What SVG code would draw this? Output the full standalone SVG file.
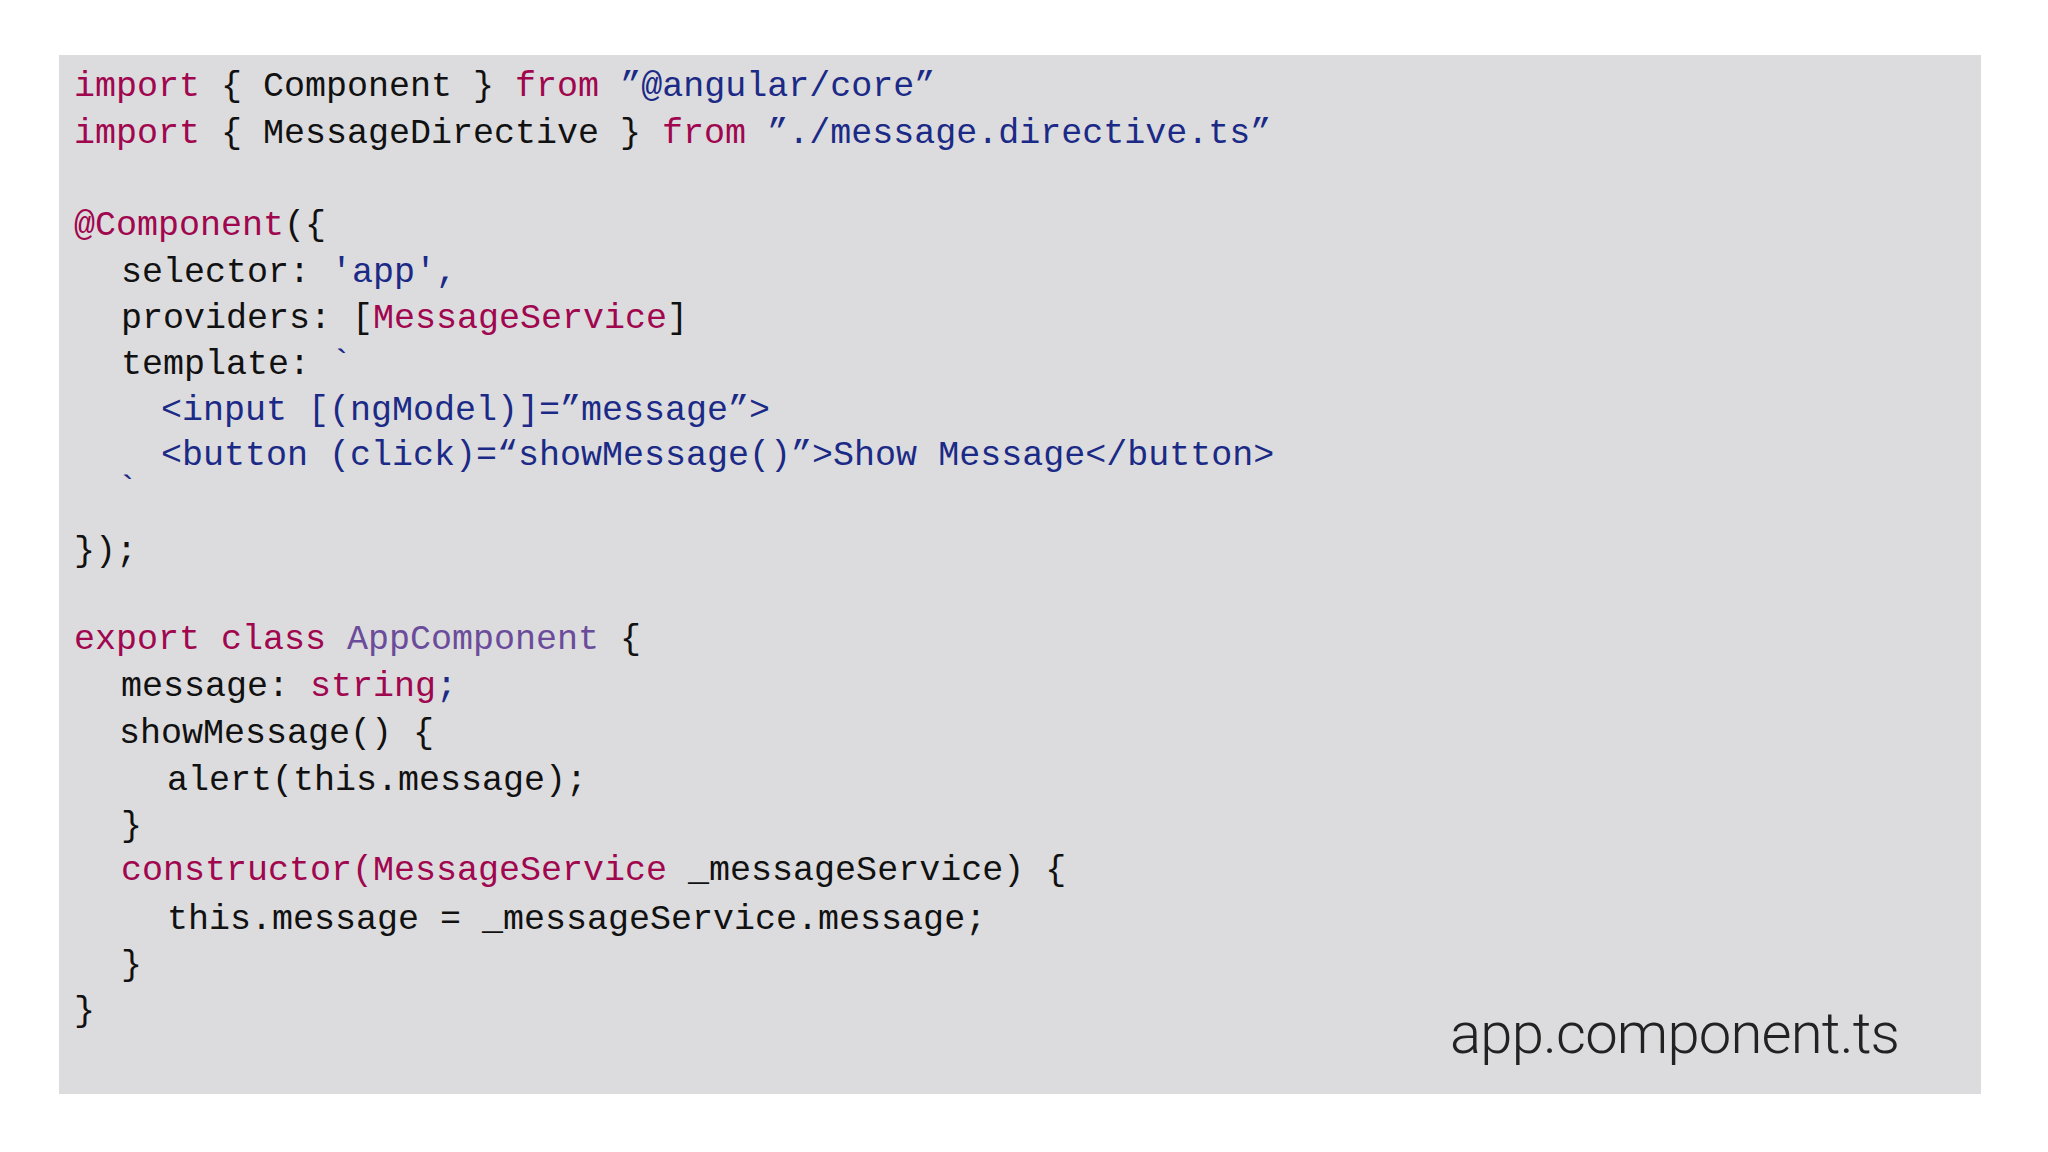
<svg xmlns="http://www.w3.org/2000/svg" width="2048" height="1152" viewBox="0 0 2048 1152">
<style>
text{font-family:"Liberation Mono",monospace;font-size:35px;fill:#111;white-space:pre}
.k{fill:#a0074e}.s{fill:#1b2a86}.p{fill:#6b4c9a}
.lbl{font-family:Roboto,"Liberation Sans",sans-serif;font-size:58px;font-weight:300;fill:#222}
</style>
<rect width="2048" height="1152" fill="#fff"/>
<g id="panel"><rect x="59" y="55" width="1922" height="1039" fill="#dcdcde"/></g>
<g id="code" xml:space="preserve">
<text x="74" y="96"><tspan class="k">import</tspan> { Component } <tspan class="k">from</tspan> <tspan class="s">”@angular/core”</tspan></text>
<text x="74" y="143"><tspan class="k">import</tspan> { MessageDirective } <tspan class="k">from</tspan> <tspan class="s">”./message.directive.ts”</tspan></text>
<text x="74" y="235"><tspan class="k">@Component</tspan>({</text>
<text x="121" y="282">selector: <tspan class="s">'app',</tspan></text>
<text x="121" y="328">providers: [<tspan class="k">MessageService</tspan>]</text>
<text x="121" y="374">template: <tspan class="s">`</tspan></text>
<text x="161" y="420" class="s">&lt;input [(ngModel)]=”message”&gt;</text>
<text x="161" y="465" class="s">&lt;button (click)=“showMessage()”&gt;Show Message&lt;/button&gt;</text>
<text x="117" y="500" class="s">`</text>
<text x="74" y="561">});</text>
<text x="74" y="649"><tspan class="k">export class</tspan> <tspan class="p">AppComponent</tspan> {</text>
<text x="121" y="696">message: <tspan class="k">string</tspan><tspan class="s">;</tspan></text>
<text x="119" y="743">showMessage() {</text>
<text x="167" y="790">alert(this.message);</text>
<text x="121" y="836">}</text>
<text x="121" y="880"><tspan class="k">constructor(MessageService</tspan> _messageService) {</text>
<text x="167" y="929">this.message = _messageService.message;</text>
<text x="121" y="975">}</text>
<text x="74" y="1021">}</text>
</g>
<g id="label"><text class="lbl" x="1450" y="1053" textLength="450">app.component.ts</text></g>
</svg>
